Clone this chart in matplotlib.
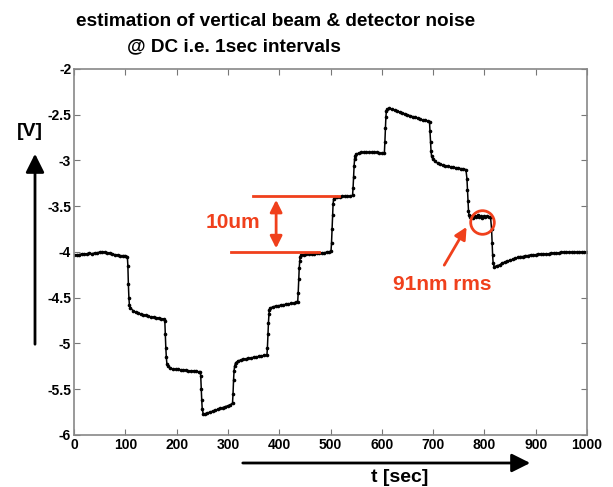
import matplotlib
matplotlib.use('Agg')
import matplotlib.pyplot as plt

plt.rcParams['font.family'] = ['Liberation Sans', 'DejaVu Sans']
plt.rcParams['font.weight'] = 'bold'

# readings (t in sec, signal in V)
t_sec = [0, 5, 10, 15, 20, 25, 30, 35, 40, 45, 50, 55, 60, 65, 70, 75, 80, 85, 90, 95, 100, 104,
         105, 106, 107, 108, 110,
         115, 120, 125, 130, 135, 140, 145, 150, 155, 160, 165, 170, 175,
         177, 178, 179, 180, 181, 183,
         188, 193, 198, 203, 208, 213, 218, 223, 228, 233, 238, 243, 246,
         247, 248, 249, 250, 252,
         255, 260, 265, 270, 275, 280, 285, 290, 295, 300, 305, 309,
         310, 311, 312, 313, 315,
         320, 325, 330, 335, 340, 345, 350, 355, 360, 365, 370, 376,
         377, 378, 379, 380, 381, 383,
         388, 393, 398, 403, 408, 413, 418, 423, 428, 433, 436,
         437, 438, 439, 440, 441, 443,
         448, 453, 458, 463, 468, 473, 478, 483, 488, 493, 498, 501,
         502, 503, 504, 505, 506, 508,
         513, 518, 523, 528, 533, 538, 543,
         544, 545, 546, 547, 548, 550,
         555, 560, 565, 570, 575, 580, 585, 590, 595, 600, 605,
         606, 607, 608, 609, 611,
         615, 620, 625, 630, 635, 640, 645, 650, 655, 660, 665, 670, 675, 680, 685, 690, 693,
         694, 695, 696, 697, 699,
         704, 709, 714, 719, 724, 729, 734, 739, 744, 749, 754, 759, 764,
         766, 767, 768, 769, 770, 772,
         775, 778, 781, 784, 787, 790, 793, 796, 799, 802, 805, 808, 812,
         814, 815, 816, 817, 819,
         825, 830, 835, 840, 845, 850, 855, 860, 865, 870, 875, 880, 885, 890, 895, 900,
         905, 910, 915, 920, 925, 930, 935, 940, 945, 950, 955, 960, 965, 970, 975, 980,
         985, 990, 995, 1000]

v_volt = [-4.03, -4.03, -4.03, -4.02, -4.02, -4.02, -4.01, -4.02, -4.01, -4.01, -4.00, -4.00,
          -4.00, -4.01, -4.01, -4.02, -4.03, -4.03, -4.04, -4.04, -4.04, -4.05,
          -4.15, -4.35, -4.50, -4.58, -4.61,
          -4.64, -4.66, -4.67, -4.68, -4.69, -4.69, -4.70, -4.71, -4.71, -4.72, -4.72, -4.73, -4.73,
          -4.75, -4.90, -5.05, -5.15, -5.22, -5.25,
          -5.27, -5.28, -5.28, -5.28, -5.29, -5.29, -5.29, -5.30, -5.30, -5.30, -5.30, -5.31, -5.31,
          -5.35, -5.50, -5.62, -5.72, -5.77,
          -5.77, -5.76, -5.75, -5.74, -5.73, -5.72, -5.71, -5.70, -5.69, -5.68, -5.67, -5.65,
          -5.55, -5.40, -5.30, -5.25, -5.21,
          -5.19, -5.18, -5.17, -5.17, -5.16, -5.16, -5.15, -5.15, -5.14, -5.14, -5.13, -5.13,
          -5.05, -4.90, -4.78, -4.68, -4.63, -4.61,
          -4.60, -4.59, -4.59, -4.58, -4.58, -4.57, -4.57, -4.56, -4.56, -4.55, -4.55,
          -4.45, -4.30, -4.18, -4.10, -4.05, -4.03,
          -4.03, -4.02, -4.02, -4.02, -4.02, -4.01, -4.01, -4.01, -4.01, -4.00, -4.00, -3.99,
          -3.90, -3.75, -3.60, -3.48, -3.42, -3.40,
          -3.40, -3.40, -3.39, -3.39, -3.39, -3.39, -3.38,
          -3.30, -3.18, -3.06, -2.98, -2.95, -2.93,
          -2.92, -2.91, -2.91, -2.91, -2.91, -2.91, -2.91, -2.91, -2.92, -2.92, -2.92,
          -2.80, -2.65, -2.52, -2.46, -2.44,
          -2.43, -2.44, -2.45, -2.46, -2.47, -2.48, -2.49, -2.50, -2.51, -2.52, -2.53, -2.54,
          -2.55, -2.56, -2.56, -2.57, -2.58,
          -2.68, -2.80, -2.90, -2.95, -2.98,
          -3.01, -3.03, -3.04, -3.05, -3.06, -3.06, -3.07, -3.07, -3.08, -3.08, -3.09, -3.09, -3.10,
          -3.20, -3.32, -3.44, -3.55, -3.60, -3.62,
          -3.61, -3.63, -3.61, -3.62, -3.60, -3.62, -3.61, -3.63, -3.61, -3.62, -3.61, -3.62, -3.62,
          -3.75, -3.90, -4.03, -4.12, -4.16,
          -4.15, -4.14, -4.12, -4.11, -4.10, -4.09, -4.08, -4.07, -4.06, -4.05, -4.05, -4.04,
          -4.04, -4.03, -4.03, -4.03, -4.02, -4.02, -4.02, -4.02, -4.02, -4.01, -4.01, -4.01,
          -4.01, -4.00, -4.00, -4.00, -4.00, -4.00, -4.00, -4.00, -4.00, -4.00, -4.00, -4.00]

x_ticks = [0, 100, 200, 300, 400, 500, 600, 700, 800, 900, 1000]
y_ticks = [-6, -5.5, -5, -4.5, -4, -3.5, -3, -2.5, -2]

red = '#f0401c'


def main():
    fig = plt.figure(figsize=(6.13, 4.87), dpi=100)
    ax = fig.add_axes([74 / 613, 52 / 487, 513 / 613, 366 / 487])

    ax.plot(t_sec, v_volt, color='black', lw=1.1, marker='.', ms=3.2)

    ax.set_xlim(0, 1000)
    ax.set_ylim(-6, -2)
    ax.set_xticks(x_ticks)
    ax.set_yticks(y_ticks)
    ax.set_yticklabels(['%g' % y for y in y_ticks])
    ax.tick_params(direction='in', top=True, right=True, labelsize=10, length=4,
                   color='#777777', pad=2)
    for s in ax.spines.values():
        s.set_color('#888888')
        s.set_linewidth(1.2)

    # 10um marker
    ax.plot([349, 517], [-3.39, -3.39], color=red, lw=2)
    ax.plot([306, 478], [-4.0, -4.0], color=red, lw=2)
    ax.annotate('', xy=(394, -3.40), xytext=(394, -3.99),
                arrowprops=dict(arrowstyle='<|-|>', color=red, lw=2, mutation_scale=18))
    ax.text(310, -3.68, '10um', color=red, fontsize=15, fontweight='bold',
            ha='center', va='center')

    # 91nm rms marker
    ax.plot([795], [-3.67], marker='o', ms=17, mfc='none', mec=red, mew=2)
    ax.annotate('', xy=(768, -3.70), xytext=(719, -4.17),
                arrowprops=dict(arrowstyle='-|>', color=red, lw=2, mutation_scale=18))
    ax.text(717, -4.36, '91nm rms', color=red, fontsize=15, fontweight='bold',
            ha='center', va='center')

    # title and axis labels
    fig.text(276 / 613, 465 / 487, 'estimation of vertical beam & detector noise',
             ha='center', va='center', fontsize=13.7, fontweight='bold')
    fig.text(234 / 613, 440 / 487, '@ DC i.e. 1sec intervals',
             ha='center', va='center', fontsize=13.7, fontweight='bold')

    fig.text(30 / 613, 355 / 487, '[V]', ha='center', va='center', fontsize=14, fontweight='bold')
    fig.add_artist(matplotlib.patches.FancyArrowPatch(
        (35 / 613, 140 / 487), (35 / 613, 336 / 487), transform=fig.transFigure,
        arrowstyle='-|>', mutation_scale=28, color='black', lw=2))

    fig.text(400 / 613, 10 / 487, 't [sec]', ha='center', va='center', fontsize=14, fontweight='bold')
    fig.add_artist(matplotlib.patches.FancyArrowPatch(
        (240 / 613, 24 / 487), (533 / 613, 24 / 487), transform=fig.transFigure,
        arrowstyle='-|>', mutation_scale=28, color='black', lw=2))

    fig.savefig('out.png', dpi=100)


if __name__ == "__main__":
    main()
